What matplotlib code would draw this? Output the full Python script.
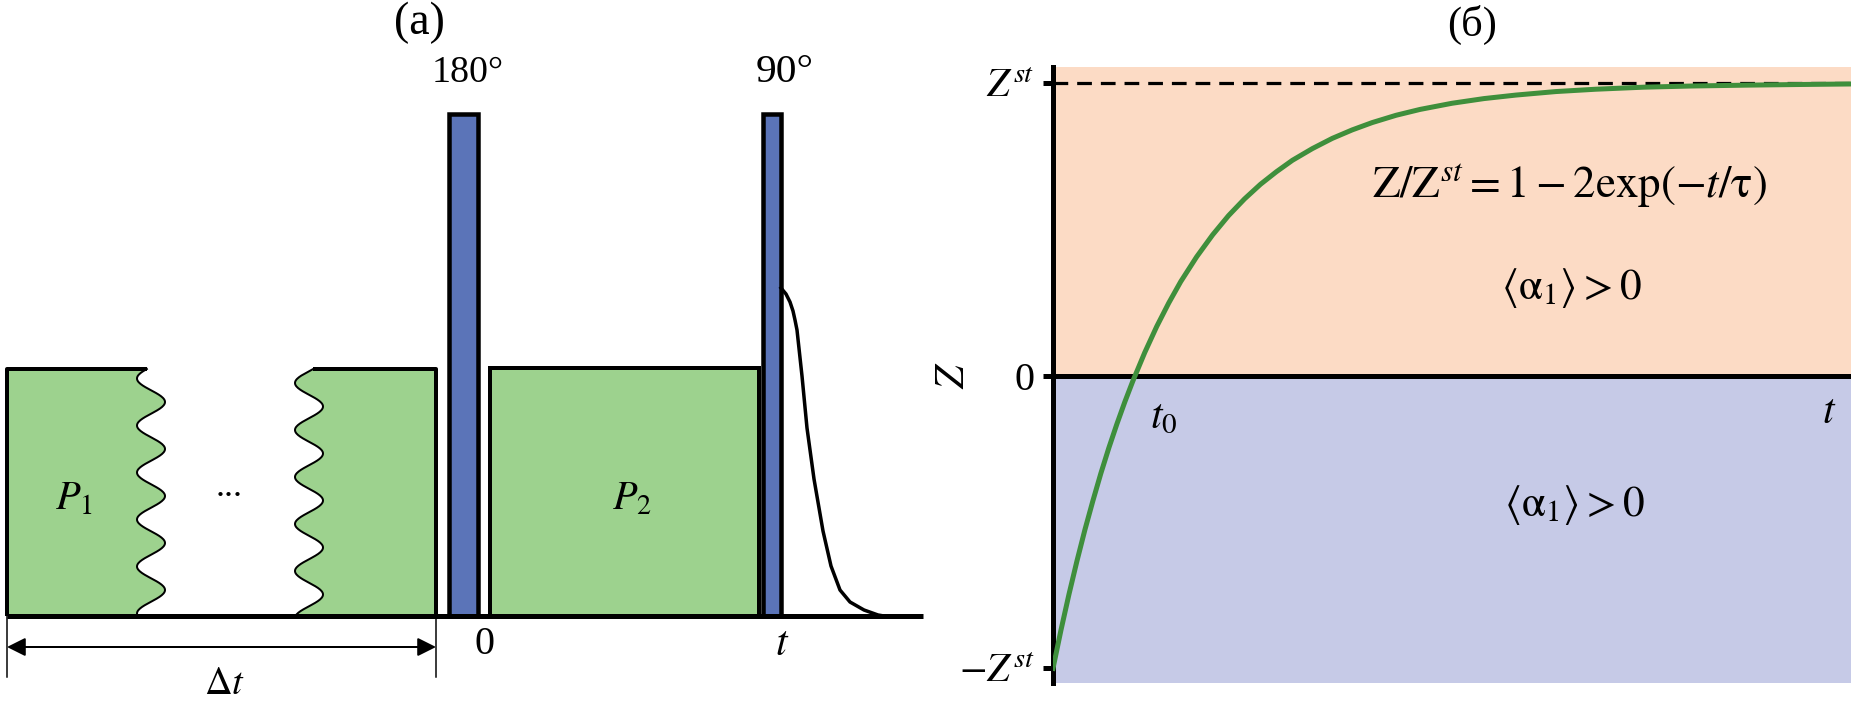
import numpy as np
import matplotlib
matplotlib.use("Agg")
import matplotlib.pyplot as plt
from matplotlib.patches import Rectangle, Polygon

plt.rcParams["font.family"] = ["Liberation Serif", "DejaVu Serif"]
plt.rcParams["mathtext.fontset"] = "stix"

# ---- panel (a): pulse sequence, diagram units (pixel-like, y down) ----
baseline_y = 616
pulse_top = 114
pulse_labels = ["180°", "90°"]
pulse_left = [449, 763]
pulse_width = [29, 18]
pulse_label_x = [468, 785]
pulse_label_w = [72, 58]

box_top = 369
box1_left, box1_wave_x = 7, 151
box2_wave_x, box2_right = 309, 436
p2_left, p2_right, p2_top = 490, 759, 368
wave_amp, wave_period = 14, 47

# free induction decay after the 90° pulse
fid_x = [781, 786, 790, 793, 795, 797, 802, 807, 814, 823, 831, 840, 850, 864, 878, 884]
fid_y = [288, 294, 302, 311, 320, 330, 376, 428, 479, 531, 566, 590, 602, 610, 615, 616]

# ---- panel (b): recovery curve Z/Z^st ----
t_curve = [0, 0.1, 0.2, 0.3, 0.4, 0.5, 0.6, 0.7, 0.8, 0.9, 1.0, 1.15, 1.3,
           1.45, 1.6, 1.8, 2.0, 2.2, 2.4, 2.6, 2.8, 3.0, 3.25, 3.5, 3.75,
           4.0, 4.3, 4.6, 5.0, 5.4, 5.8, 6.3, 6.8, 7.4, 8.0, 8.7, 9.3, 10.0]
z_curve = [-1.000, -0.869, -0.747, -0.633, -0.526, -0.427, -0.333, -0.246,
           -0.165, -0.089, -0.018, 0.080, 0.169, 0.249, 0.322, 0.407, 0.482,
           0.548, 0.605, 0.655, 0.698, 0.737, 0.777, 0.812, 0.841, 0.866,
           0.891, 0.911, 0.932, 0.948, 0.960, 0.972, 0.980, 0.987, 0.991,
           0.994, 0.996, 0.998]
z_ticks = [-1, 0, 1]
z_tick_labels = [r"$-Z^{st}$", "0", r"$Z^{st}$"]

GREEN_BOX = "#9dd28e"
BLUE_PULSE = "#5b74b8"
PEACH = "#fcdbc5"
LAVENDER = "#c6cae7"
CURVE = "#3f8f3c"
PX = 0.72  # points per pixel at dpi 100

fig = plt.figure(figsize=(18.59, 7.09), dpi=100)
renderer = fig.canvas.get_renderer()


def fit_text(owner, x, y, s, width_px, **kw):
    # size a label so its rendered width matches the reference
    t = owner.text(x, y, s, fontsize=28, ha="center", va="center", **kw)
    w = t.get_window_extent(renderer).width
    t.set_fontsize(28 * width_px / w)
    return t


ax1 = fig.add_axes([0, 0, 930 / 1859, 1])
ax1.set_xlim(0, 930)
ax1.set_ylim(709, 0)
ax1.axis("off")

ys = np.linspace(box_top, baseline_y, 300)
w1 = box1_wave_x + wave_amp * np.cos(2 * np.pi * (ys - 402) / wave_period)
w2 = box2_wave_x - wave_amp * np.cos(2 * np.pi * (ys - 383) / wave_period)

poly1 = np.vstack([[[box1_left, baseline_y], [box1_left, box_top]],
                   np.column_stack([w1, ys])])
poly2 = np.vstack([np.column_stack([w2, ys]),
                   [[box2_right, baseline_y], [box2_right, box_top]]])
for poly in (poly1, poly2):
    ax1.add_patch(Polygon(poly, closed=True, facecolor=GREEN_BOX,
                          edgecolor="none", zorder=1))
ax1.plot(w1, ys, color="black", lw=2 * PX, zorder=2)
ax1.plot(w2, ys, color="black", lw=2 * PX, zorder=2)
ax1.plot([box1_left, box1_left, w1[0]], [baseline_y, box_top, box_top],
         color="black", lw=4 * PX, zorder=2, solid_capstyle="butt")
ax1.plot([w2[0], box2_right, box2_right], [box_top, box_top, baseline_y],
         color="black", lw=4 * PX, zorder=2, solid_capstyle="butt")

ax1.add_patch(Rectangle((p2_left, p2_top), p2_right - p2_left,
                        baseline_y - p2_top, facecolor=GREEN_BOX,
                        edgecolor="black", lw=4 * PX, zorder=2))

for lab, x0, w, lx, lw_ in zip(pulse_labels, pulse_left, pulse_width,
                               pulse_label_x, pulse_label_w):
    ax1.add_patch(Rectangle((x0, pulse_top), w, baseline_y - pulse_top,
                            facecolor=BLUE_PULSE, edgecolor="black",
                            lw=4.5 * PX, zorder=3))
    fit_text(ax1, lx, 73, lab, lw_)

ax1.plot(fid_x, fid_y, color="black", lw=3.5 * PX, zorder=3)
ax1.plot([box1_left, 923], [baseline_y, baseline_y], color="black",
         lw=5 * PX, zorder=4, solid_capstyle="butt")

# delta-t span
for xv in (box1_left, box2_right):
    ax1.plot([xv, xv], [baseline_y, 677], color="black", lw=1.5 * PX)
ax1.annotate("", xy=(box1_left, 647), xytext=(box2_right, 647),
             arrowprops=dict(arrowstyle="<|-|>", color="black", lw=2 * PX,
                             mutation_scale=28, shrinkA=0, shrinkB=0))

fit_text(ax1, 419, 23, "(a)", 51)
fit_text(ax1, 74, 500, r"$P_1$", 38)
fit_text(ax1, 632, 500, r"$P_2$", 40)
ax1.text(229, 488, "...", fontsize=26, ha="center", va="center")
ax1.text(485, 645, "0", fontsize=29, ha="center", va="center")
ax1.text(782, 645, r"$t$", fontsize=30, ha="center", va="center")
fit_text(ax1, 225, 685, r"$\Delta t$", 41)

# ---- panel (b) ----
ax2 = fig.add_axes([1053 / 1859, 26 / 709, 798 / 1859, 616 / 709])
ax2.set_xlim(0, 10)
ax2.set_ylim(-1.05, 1.056)
ax2.axhspan(0, 1.056, color=PEACH, lw=0, zorder=0)
ax2.axhspan(-1.05, 0, color=LAVENDER, lw=0, zorder=0)
ax2.axhline(1, color="black", lw=3.2 * PX, ls=(0, (4.6, 2.8)), zorder=2)
ax2.axhline(0, color="black", lw=5 * PX, zorder=2)
ax2.plot(t_curve, z_curve, color=CURVE, lw=5 * PX, zorder=3)

for s in ("top", "right", "bottom"):
    ax2.spines[s].set_visible(False)
ax2.spines["left"].set_linewidth(5 * PX)
ax2.set_xticks([])
ax2.set_yticks(z_ticks)
ax2.set_yticklabels(z_tick_labels, fontsize=29)
ax2.tick_params(axis="y", direction="out", length=10 * PX, width=5 * PX,
                pad=6)
ax2.set_ylabel(r"$Z$", fontsize=30, rotation=90)
ax2.yaxis.set_label_coords(-0.10, 0.5)

fit_text(ax2, 6.47, 0.647,
         r"$\mathrm{Z/Z}^{st} = 1 - 2\mathrm{exp}(-t/\mathrm{\tau})$", 395)
fit_text(ax2, 6.5, 0.302, r"$\langle\mathrm{\alpha}_1\rangle > 0$", 141)
fit_text(ax2, 6.53, -0.44, r"$\langle\mathrm{\alpha}_1\rangle > 0$", 141)
ax2.text(1.39, -0.14, r"$t_0$", fontsize=30, ha="center", va="center")
ax2.text(9.73, -0.127, r"$t$", fontsize=30, ha="center", va="center")

fit_text(fig, 1472 / 1859, 1 - 25 / 709, "(б)", 50)

fig.savefig("out.png", dpi=100)
